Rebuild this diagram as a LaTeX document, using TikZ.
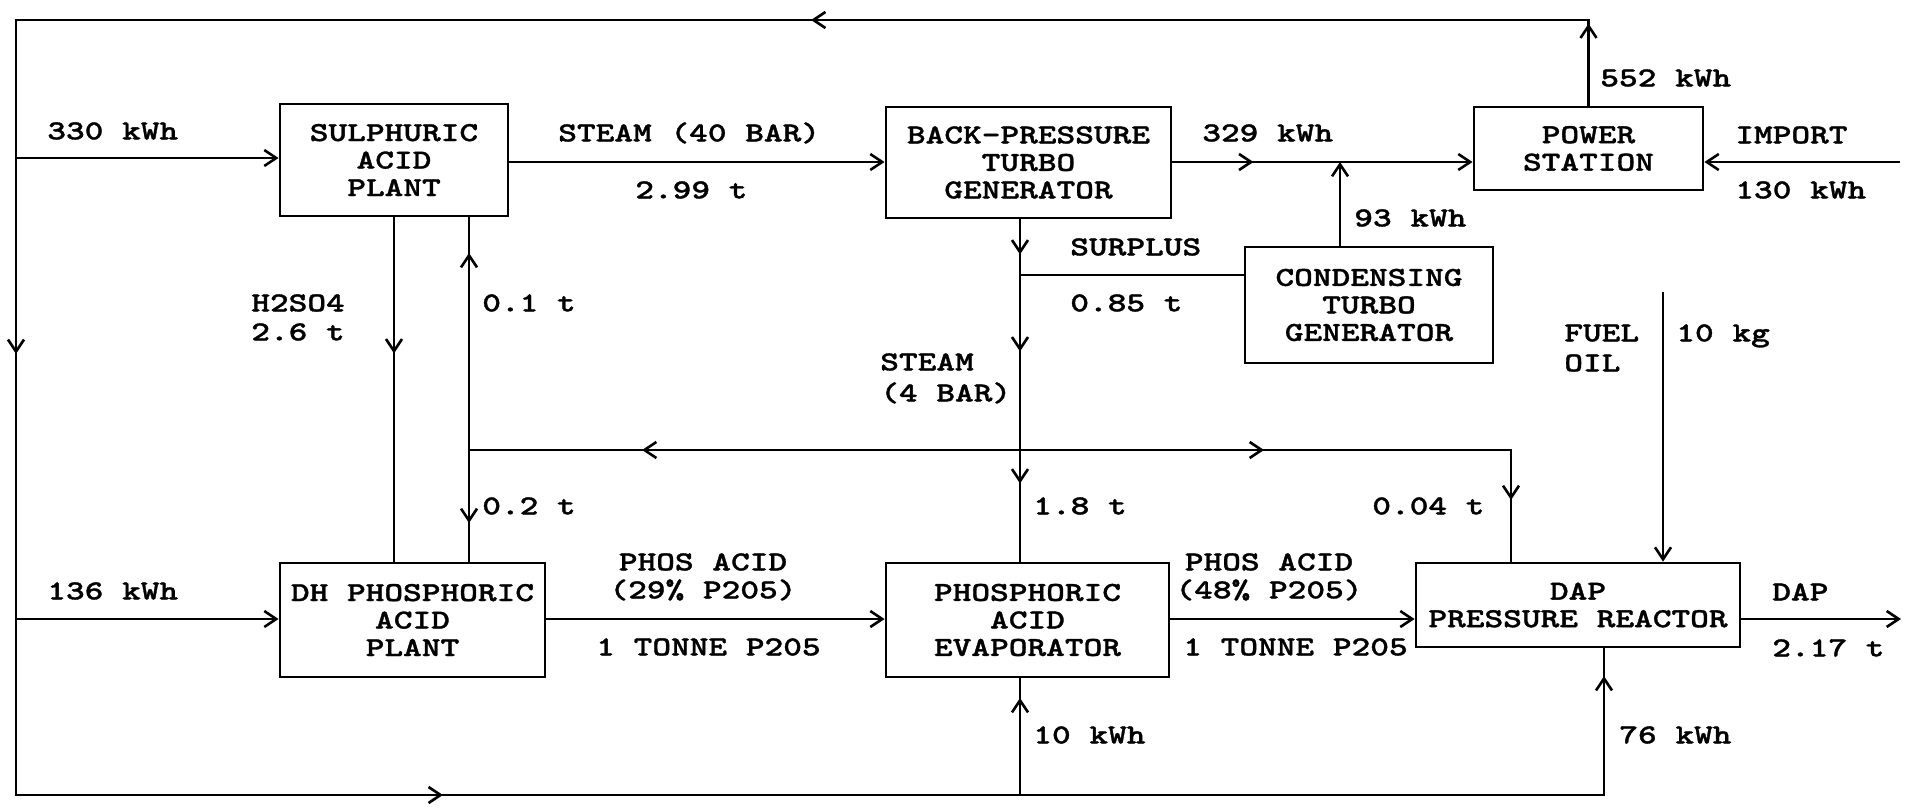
\documentclass[tikz,border=0pt]{standalone}
\usepackage{fontspec}
\newfontfamily\diag{lmmonolt10-bold.otf}[FakeStretch=1.3,FakeBold=1.2]
\usetikzlibrary{arrows.meta,decorations.markings}
\newcommand\dfont{\diag\fontsize{13.7pt}{13.75pt}\selectfont}
\tikzset{
  >={Straight Barb[length=6pt,width=8pt]},
  every path/.style={line width=1.3pt},
  box/.style={draw, line width=1.4pt, align=center, inner sep=0pt, font=\dfont},
  lbl/.style={inner sep=0pt, anchor=west, text height=8.35pt, text depth=0pt, font=\dfont},
  clbl/.style={lbl, anchor=center},
  flow/.style={postaction={decorate}},
  tipat/.style={decoration={markings, mark=at position #1 with {\arrow{>}}}},
}
\begin{document}
\begin{tikzpicture}[x=0.5pt,y=-0.5pt]
\fill[white] (0,0) rectangle (1915,808);
\useasboundingbox (0,0) rectangle (1915,808);

% boxes
\node[box, minimum width=114pt,   minimum height=56pt]   (SA)  at (394,160)     {SULPHURIC\\ACID\\PLANT};
\node[box, minimum width=142.5pt, minimum height=55.5pt] (BP)  at (1028.5,162.5) {BACK-PRESSURE\\TURBO\\GENERATOR};
\node[box, minimum width=114.5pt, minimum height=41.5pt] (PS)  at (1588.5,148.5) {POWER\\STATION};
\node[box, minimum width=124pt,   minimum height=58pt]   (CT)  at (1369,305)    {CONDENSING\\TURBO\\GENERATOR};
\node[box, minimum width=132.5pt, minimum height=57pt]   (DH)  at (412.5,620)   {DH PHOSPHORIC\\ACID\\PLANT};
\node[box, minimum width=141.5pt, minimum height=57pt]   (EV)  at (1027.5,620)  {PHOSPHORIC\\ACID\\EVAPORATOR};
\node[box, minimum width=162pt,   minimum height=42pt]   (DAP) at (1578,605)    {DAP\\PRESSURE REACTOR};

% helper coordinates
\coordinate (TL) at (16,20);
\coordinate (BL) at (16,795);
\coordinate (BR) at (1604,795);
\coordinate (yA) at (0,158);
\coordinate (yB) at (0,619);
\coordinate (yS) at (0,162);
\coordinate (J) at (1340,162);
\coordinate (R) at (1020,450);
\coordinate (RL) at (469,450);
\coordinate (RR) at (1511,450);
\coordinate (SP) at (1020,275);
\coordinate (F) at (1663,292);
\coordinate (IM) at (1900,162);
\coordinate (OUT) at (1901,619);
\coordinate (E10) at (1020,795);

% electricity loop
\draw[flow, tipat=41pt, tipat=431.5pt, tipat=996pt, tipat=1430pt, tipat=2070pt]
  (PS.north) -- (PS.north |- TL) -- (TL) -- (BL) -- (BR) -- (DAP.south -| BR);
\draw[->] (TL |- yA) -- (SA.west |- yA);
\draw[->] (TL |- yB) -- (DH.west |- yB);
\draw[flow, tipat=48.5pt] (E10) -- (EV.south -| E10);

% steam / power
\draw[->] (SA.east |- yS) -- (BP.west |- yS);
\draw[->, flow, tipat=40.5pt] (BP.east |- yS) -- (PS.west |- yS);
\draw[->] (CT.north -| J) -- (J);
\draw[->] (IM) -- (PS.east |- yS);
\draw[flow, tipat=17.5pt, tipat=66pt, tipat=132pt] (BP.south -| R) -- (EV.north -| R);
\draw (SP) -- (CT.west |- SP);
\draw[flow, tipat=189pt] (R) -- (RL);
\draw[flow, tipat=122pt, tipat=270.5pt] (R) -- (RR) -- (DAP.north -| RR);
\draw[flow, tipat=98.5pt] (RL) -- (SA.south -| RL);
\draw[flow, tipat=36.5pt] (RL) -- (DH.north -| RL);

% process
\draw[flow, tipat=68pt] (SA.south) -- (SA.south |- DH.north);
\draw[->] (DH.east |- yB) -- (EV.west |- yB);
\draw[->] (EV.east |- yB) -- (DAP.west |- yB);
\draw[->] (DAP.east |- yB) -- (OUT);
\draw[->] (F) -- (DAP.north -| F);

% labels
\node[lbl] (l330) at (46,131) {330 kWh};
\node[lbl] (lst40) at (557,133) {STEAM (40 BAR)};
\node[lbl] (l299) at (634,190) {2.99 t};
\node[lbl] (l329) at (1201,133) {329 kWh};
\node[lbl] (l552) at (1599,78) {552 kWh};
\node[lbl] (limp) at (1734,135) {IMPORT};
\node[lbl] (l130) at (1734,190) {130 kWh};
\node[lbl] (l93) at (1353,218) {93 kWh};
\node[lbl] (lsur) at (1069,247) {SURPLUS};
\node[lbl] (l085) at (1069,303) {0.85 t};
\node[lbl] (lh2) at (250,303) {H2SO4};
\node[lbl] (l26) at (250,332) {2.6 t};
\node[lbl] (l01) at (481,303) {0.1 t};
\node[lbl] (lst4a) at (879,362) {STEAM};
\node[lbl] (lst4b) at (879,393) {(4 BAR)};
\node[lbl] (lfuel) at (1563,333) {FUEL};
\node[lbl] (loil) at (1563,363) {OIL};
\node[lbl] (l10kg) at (1675,333) {10 kg};
\node[lbl] (l02) at (481,506) {0.2 t};
\node[lbl] (l18) at (1032,506) {1.8 t};
\node[lbl] (l004) at (1371,506) {0.04 t};
\node[lbl] (l136) at (46,591) {136 kWh};
\node[clbl] (lpa1) at (703,562) {PHOS ACID};
\node[clbl] (lpa1b) at (703,590) {(29\% P205)};
\node[lbl] (lt1) at (595,647) {1 TONNE P205};
\node[clbl] (lpa2) at (1269,562) {PHOS ACID};
\node[clbl] (lpa2b) at (1269,590) {(48\% P205)};
\node[lbl] (lt2) at (1182,647) {1 TONNE P205};
\node[lbl] (l10) at (1032,735) {10 kWh};
\node[lbl] (l76) at (1618,735) {76 kWh};
\node[lbl] (ldap) at (1771,592) {DAP};
\node[lbl] (l217) at (1771,648) {2.17 t};
\end{tikzpicture}
\end{document}
